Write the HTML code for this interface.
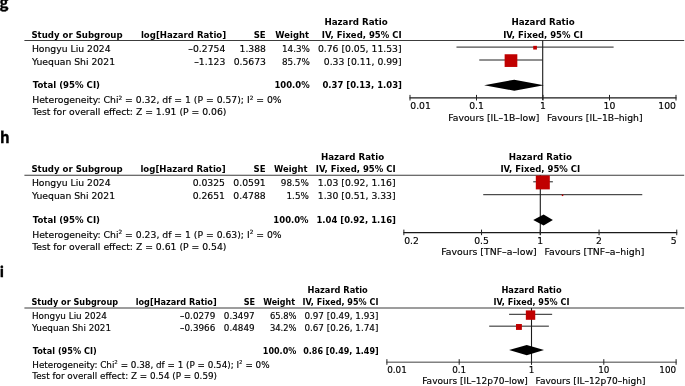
<!DOCTYPE html>
<html><head><meta charset="utf-8"><title>Forest plots</title>
<style>
html,body{margin:0;padding:0;background:#fff;}
svg{display:block;font-family:"DejaVu Sans","Liberation Sans",sans-serif;fill:#000;}
svg text{stroke:#000;stroke-width:0.15px;}
svg text.b{stroke:none;font-weight:bold;}
</style></head><body>
<svg width="685" height="386" viewBox="0 0 685 386">
<rect width="685" height="386" fill="#fff"/>
<text x="-0.40" y="8.30" text-anchor="start" font-size="15" font-family="Noto Sans CJK JP, Liberation Sans, sans-serif" font-weight="bold" style="stroke-width:0.35px">g</text>
<text transform="translate(31.40,37.70) scale(0.928,1)" text-anchor="start" class="b" font-size="9.26">Study or Subgroup</text>
<text transform="translate(226.20,37.70) scale(0.928,1)" text-anchor="end" class="b" font-size="9.26">log[Hazard Ratio]</text>
<text transform="translate(265.70,37.70) scale(0.928,1)" text-anchor="end" class="b" font-size="9.26">SE</text>
<text transform="translate(308.90,37.70) scale(0.908,1)" text-anchor="end" class="b" font-size="9.26">Weight</text>
<text transform="translate(401.60,37.70) scale(0.92,1)" text-anchor="end" class="b" font-size="9.26">IV, Fixed, 95% CI</text>
<text transform="translate(356.00,25.00) scale(0.94,1)" text-anchor="middle" class="b" font-size="9.26">Hazard Ratio</text>
<text transform="translate(543.00,37.70) scale(0.92,1)" text-anchor="middle" class="b" font-size="9.26">IV, Fixed, 95% CI</text>
<text transform="translate(543.00,25.00) scale(0.94,1)" text-anchor="middle" class="b" font-size="9.26">Hazard Ratio</text>
<line x1="24.40" y1="40.50" x2="684.20" y2="40.50" stroke="#3c3c3c" stroke-width="1.1"/>
<text x="31.90" y="52.00" text-anchor="start" font-size="9.26">Hongyu Liu 2024</text>
<text x="225.30" y="52.00" text-anchor="end" font-size="9.26">–0.2754</text>
<text x="266.00" y="52.00" text-anchor="end" font-size="9.26">1.388</text>
<text transform="translate(310.00,52.00) scale(0.955,1)" text-anchor="end" font-size="9.26">14.3%</text>
<text x="401.60" y="52.00" text-anchor="end" font-size="9.26">0.76 [0.05, 11.53]</text>
<text x="31.90" y="64.80" text-anchor="start" font-size="9.26">Yuequan Shi 2021</text>
<text x="225.30" y="64.80" text-anchor="end" font-size="9.26">–1.123</text>
<text x="266.00" y="64.80" text-anchor="end" font-size="9.26">0.5673</text>
<text transform="translate(310.00,64.80) scale(0.955,1)" text-anchor="end" font-size="9.26">85.7%</text>
<text x="401.60" y="64.80" text-anchor="end" font-size="9.26">0.33 [0.11, 0.99]</text>
<text transform="translate(32.70,88.20) scale(0.928,1)" text-anchor="start" class="b" font-size="9.26">Total (95% CI)</text>
<text transform="translate(309.70,88.20) scale(0.915,1)" text-anchor="end" class="b" font-size="9.26">100.0%</text>
<text transform="translate(401.90,88.20) scale(0.915,1)" text-anchor="end" class="b" font-size="9.26">0.37 [0.13, 1.03]</text>
<text x="32.20" y="103.00" text-anchor="start" font-size="9.26">Heterogeneity: Chi<tspan dy="-3.33" font-size="5.74">2</tspan><tspan dy="3.33"> </tspan>= 0.32, df = 1 (P = 0.57); I<tspan dy="-3.33" font-size="5.74">2</tspan><tspan dy="3.33"> </tspan>= 0%</text>
<text x="32.20" y="115.20" text-anchor="start" font-size="9.26">Test for overall effect: Z = 1.91 (P = 0.06)</text>
<line x1="542.70" y1="40.50" x2="542.70" y2="100.10" stroke="#1a1a1a" stroke-width="1.1"/>
<line x1="456.48" y1="47.10" x2="613.61" y2="47.10" stroke="#222" stroke-width="1.0"/>
<rect x="533.22" y="45.85" width="3.70" height="3.70" fill="#c00000"/>
<line x1="479.25" y1="60.00" x2="542.71" y2="60.00" stroke="#222" stroke-width="1.0"/>
<rect x="504.63" y="54.25" width="12.70" height="12.70" fill="#c00000"/>
<polygon points="484.08,85.20 514.29,79.70 543.85,85.20 514.29,90.70" fill="#000"/>
<line x1="409.50" y1="97.90" x2="676.50" y2="97.90" stroke="#1a1a1a" stroke-width="1.1"/>
<line x1="410.00" y1="94.90" x2="410.00" y2="100.50" stroke="#222" stroke-width="1.0"/>
<text x="410.30" y="109.10" text-anchor="start" font-size="9.26">0.01</text>
<line x1="476.50" y1="94.90" x2="476.50" y2="100.50" stroke="#222" stroke-width="1.0"/>
<text x="476.50" y="109.10" text-anchor="middle" font-size="9.26">0.1</text>
<line x1="543.00" y1="94.90" x2="543.00" y2="100.50" stroke="#222" stroke-width="1.0"/>
<text x="543.00" y="109.10" text-anchor="middle" font-size="9.26">1</text>
<line x1="609.50" y1="94.90" x2="609.50" y2="100.50" stroke="#222" stroke-width="1.0"/>
<text x="609.50" y="109.10" text-anchor="middle" font-size="9.26">10</text>
<line x1="676.00" y1="94.90" x2="676.00" y2="100.50" stroke="#222" stroke-width="1.0"/>
<text x="676.00" y="109.10" text-anchor="end" font-size="9.26">100</text>
<text x="539.40" y="120.60" text-anchor="end" font-size="9.26">Favours [IL–1B–low]</text>
<text x="547.10" y="120.60" text-anchor="start" font-size="9.26">Favours [IL–1B–high]</text>
<text x="-0.10" y="143.30" text-anchor="start" font-size="15" font-family="Noto Sans CJK JP, Liberation Sans, sans-serif" font-weight="bold" style="stroke-width:0.35px">h</text>
<text transform="translate(31.40,172.40) scale(0.928,1)" text-anchor="start" class="b" font-size="9.26">Study or Subgroup</text>
<text transform="translate(225.70,172.40) scale(0.928,1)" text-anchor="end" class="b" font-size="9.26">log[Hazard Ratio]</text>
<text transform="translate(265.50,172.40) scale(0.928,1)" text-anchor="end" class="b" font-size="9.26">SE</text>
<text transform="translate(307.60,172.40) scale(0.908,1)" text-anchor="end" class="b" font-size="9.26">Weight</text>
<text transform="translate(395.60,172.40) scale(0.92,1)" text-anchor="end" class="b" font-size="9.26">IV, Fixed, 95% CI</text>
<text transform="translate(352.50,159.70) scale(0.94,1)" text-anchor="middle" class="b" font-size="9.26">Hazard Ratio</text>
<text transform="translate(540.30,172.40) scale(0.92,1)" text-anchor="middle" class="b" font-size="9.26">IV, Fixed, 95% CI</text>
<text transform="translate(540.30,159.70) scale(0.94,1)" text-anchor="middle" class="b" font-size="9.26">Hazard Ratio</text>
<line x1="24.40" y1="175.20" x2="684.20" y2="175.20" stroke="#3c3c3c" stroke-width="1.1"/>
<text x="31.90" y="186.40" text-anchor="start" font-size="9.26">Hongyu Liu 2024</text>
<text x="225.00" y="186.40" text-anchor="end" font-size="9.26">0.0325</text>
<text x="265.70" y="186.40" text-anchor="end" font-size="9.26">0.0591</text>
<text transform="translate(308.90,186.40) scale(0.955,1)" text-anchor="end" font-size="9.26">98.5%</text>
<text x="395.60" y="186.40" text-anchor="end" font-size="9.26">1.03 [0.92, 1.16]</text>
<text x="31.90" y="199.10" text-anchor="start" font-size="9.26">Yuequan Shi 2021</text>
<text x="225.00" y="199.10" text-anchor="end" font-size="9.26">0.2651</text>
<text x="265.70" y="199.10" text-anchor="end" font-size="9.26">0.4788</text>
<text transform="translate(308.90,199.10) scale(0.955,1)" text-anchor="end" font-size="9.26">1.5%</text>
<text x="395.60" y="199.10" text-anchor="end" font-size="9.26">1.30 [0.51, 3.33]</text>
<text transform="translate(32.70,222.90) scale(0.928,1)" text-anchor="start" class="b" font-size="9.26">Total (95% CI)</text>
<text transform="translate(308.60,222.90) scale(0.915,1)" text-anchor="end" class="b" font-size="9.26">100.0%</text>
<text transform="translate(395.90,222.90) scale(0.915,1)" text-anchor="end" class="b" font-size="9.26">1.04 [0.92, 1.16]</text>
<text x="32.20" y="237.70" text-anchor="start" font-size="9.26">Heterogeneity: Chi<tspan dy="-3.33" font-size="5.74">2</tspan><tspan dy="3.33"> </tspan>= 0.23, df = 1 (P = 0.63); I<tspan dy="-3.33" font-size="5.74">2</tspan><tspan dy="3.33"> </tspan>= 0%</text>
<text x="32.20" y="249.90" text-anchor="start" font-size="9.26">Test for overall effect: Z = 0.61 (P = 0.54)</text>
<line x1="540.30" y1="175.20" x2="540.30" y2="234.80" stroke="#1a1a1a" stroke-width="1.1"/>
<line x1="533.23" y1="181.80" x2="552.88" y2="181.80" stroke="#222" stroke-width="1.0"/>
<rect x="535.81" y="175.50" width="14.00" height="13.90" fill="#c00000"/>
<line x1="483.22" y1="194.70" x2="642.28" y2="194.70" stroke="#222" stroke-width="1.0"/>
<rect x="561.79" y="194.55" width="1.50" height="1.50" fill="#c00000"/>
<polygon points="533.23,219.90 543.62,214.40 552.88,219.90 543.62,225.40" fill="#000"/>
<line x1="403.36" y1="232.60" x2="677.24" y2="232.60" stroke="#1a1a1a" stroke-width="1.1"/>
<line x1="403.86" y1="229.60" x2="403.86" y2="235.20" stroke="#222" stroke-width="1.0"/>
<text x="404.16" y="243.80" text-anchor="start" font-size="9.26">0.2</text>
<line x1="481.54" y1="229.60" x2="481.54" y2="235.20" stroke="#222" stroke-width="1.0"/>
<text x="481.54" y="243.80" text-anchor="middle" font-size="9.26">0.5</text>
<line x1="540.30" y1="229.60" x2="540.30" y2="235.20" stroke="#222" stroke-width="1.0"/>
<text x="540.30" y="243.80" text-anchor="middle" font-size="9.26">1</text>
<line x1="599.06" y1="229.60" x2="599.06" y2="235.20" stroke="#222" stroke-width="1.0"/>
<text x="599.06" y="243.80" text-anchor="middle" font-size="9.26">2</text>
<line x1="676.74" y1="229.60" x2="676.74" y2="235.20" stroke="#222" stroke-width="1.0"/>
<text x="676.74" y="243.80" text-anchor="end" font-size="9.26">5</text>
<text transform="translate(536.70,255.30) scale(1.01,1)" text-anchor="end" font-size="9.26">Favours [TNF–a–low]</text>
<text transform="translate(544.40,255.30) scale(1.01,1)" text-anchor="start" font-size="9.26">Favours [TNF–a–high]</text>
<text x="-0.20" y="276.50" text-anchor="start" font-size="14" font-family="Noto Sans CJK JP, Liberation Sans, sans-serif" font-weight="bold" style="stroke-width:0.35px">i</text>
<text transform="translate(31.50,305.00) scale(0.928,1)" text-anchor="start" class="b" font-size="8.8">Study or Subgroup</text>
<text transform="translate(216.70,305.00) scale(0.928,1)" text-anchor="end" class="b" font-size="8.8">log[Hazard Ratio]</text>
<text transform="translate(255.10,305.00) scale(0.928,1)" text-anchor="end" class="b" font-size="8.8">SE</text>
<text transform="translate(295.00,305.00) scale(0.908,1)" text-anchor="end" class="b" font-size="8.8">Weight</text>
<text transform="translate(378.40,305.00) scale(0.92,1)" text-anchor="end" class="b" font-size="8.8">IV, Fixed, 95% CI</text>
<text transform="translate(337.60,292.92) scale(0.94,1)" text-anchor="middle" class="b" font-size="8.8">Hazard Ratio</text>
<text transform="translate(531.50,305.00) scale(0.92,1)" text-anchor="middle" class="b" font-size="8.8">IV, Fixed, 95% CI</text>
<text transform="translate(531.50,292.92) scale(0.94,1)" text-anchor="middle" class="b" font-size="8.8">Hazard Ratio</text>
<line x1="24.40" y1="308.00" x2="684.20" y2="308.00" stroke="#3c3c3c" stroke-width="1.1"/>
<text x="32.00" y="318.77" text-anchor="start" font-size="8.8">Hongyu Liu 2024</text>
<text x="215.30" y="318.77" text-anchor="end" font-size="8.8">–0.0279</text>
<text x="254.60" y="318.77" text-anchor="end" font-size="8.8">0.3497</text>
<text transform="translate(296.60,318.77) scale(0.955,1)" text-anchor="end" font-size="8.8">65.8%</text>
<text x="378.40" y="318.77" text-anchor="end" font-size="8.8">0.97 [0.49, 1.93]</text>
<text x="32.00" y="331.13" text-anchor="start" font-size="8.8">Yuequan Shi 2021</text>
<text x="215.30" y="331.13" text-anchor="end" font-size="8.8">–0.3966</text>
<text x="254.60" y="331.13" text-anchor="end" font-size="8.8">0.4849</text>
<text transform="translate(296.60,331.13) scale(0.955,1)" text-anchor="end" font-size="8.8">34.2%</text>
<text x="378.40" y="331.13" text-anchor="end" font-size="8.8">0.67 [0.26, 1.74]</text>
<text transform="translate(32.80,353.56) scale(0.928,1)" text-anchor="start" class="b" font-size="8.8">Total (95% CI)</text>
<text transform="translate(296.30,353.56) scale(0.915,1)" text-anchor="end" class="b" font-size="8.8">100.0%</text>
<text transform="translate(378.70,353.56) scale(0.915,1)" text-anchor="end" class="b" font-size="8.8">0.86 [0.49, 1.49]</text>
<text x="32.30" y="367.52" text-anchor="start" font-size="8.8">Heterogeneity: Chi<tspan dy="-3.17" font-size="5.46">2</tspan><tspan dy="3.17"> </tspan>= 0.38, df = 1 (P = 0.54); I<tspan dy="-3.17" font-size="5.46">2</tspan><tspan dy="3.17"> </tspan>= 0%</text>
<text x="32.30" y="379.31" text-anchor="start" font-size="8.8">Test for overall effect: Z = 0.54 (P = 0.59)</text>
<line x1="531.50" y1="308.00" x2="531.50" y2="364.37" stroke="#1a1a1a" stroke-width="1.1"/>
<line x1="509.10" y1="314.31" x2="552.15" y2="314.31" stroke="#222" stroke-width="1.0"/>
<rect x="525.84" y="310.41" width="9.40" height="9.40" fill="#c00000"/>
<line x1="489.20" y1="326.17" x2="548.89" y2="326.17" stroke="#222" stroke-width="1.0"/>
<rect x="515.98" y="324.02" width="5.90" height="5.90" fill="#c00000"/>
<polygon points="509.10,350.11 526.76,344.88 544.02,350.11 526.76,355.34" fill="#000"/>
<line x1="386.40" y1="362.17" x2="676.60" y2="362.17" stroke="#2a2a2a" stroke-width="0.9"/>
<line x1="386.90" y1="359.17" x2="386.90" y2="364.77" stroke="#222" stroke-width="1.0"/>
<text x="387.20" y="372.81" text-anchor="start" font-size="8.8">0.01</text>
<line x1="459.20" y1="359.17" x2="459.20" y2="364.77" stroke="#222" stroke-width="1.0"/>
<text x="459.20" y="372.81" text-anchor="middle" font-size="8.8">0.1</text>
<line x1="531.50" y1="359.17" x2="531.50" y2="364.77" stroke="#222" stroke-width="1.0"/>
<text x="531.50" y="372.81" text-anchor="middle" font-size="8.8">1</text>
<line x1="603.80" y1="359.17" x2="603.80" y2="364.77" stroke="#222" stroke-width="1.0"/>
<text x="603.80" y="372.81" text-anchor="middle" font-size="8.8">10</text>
<line x1="676.10" y1="359.17" x2="676.10" y2="364.77" stroke="#222" stroke-width="1.0"/>
<text x="676.10" y="372.81" text-anchor="end" font-size="8.8">100</text>
<text transform="translate(527.90,383.74) scale(1.028,1)" text-anchor="end" font-size="8.8">Favours [IL–12p70–low]</text>
<text transform="translate(535.60,383.74) scale(1.028,1)" text-anchor="start" font-size="8.8">Favours [IL–12p70–high]</text>
</svg>
</body></html>
